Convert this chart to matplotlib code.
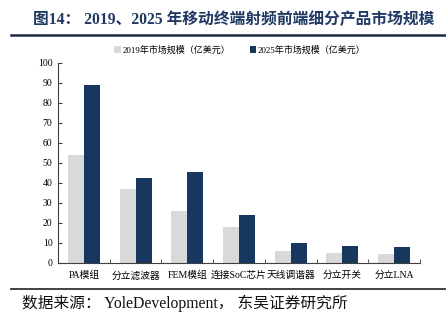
import matplotlib
matplotlib.use("Agg")
import matplotlib.pyplot as plt
import numpy as np

categories = ["PA模组", "分立滤波器", "FEM模组", "连接SoC芯片", "天线调谐器", "分立开关", "分立LNA"]
v2019 = [54, 37, 26, 18, 6, 5, 4.3]
v2025 = [89, 42.5, 45.5, 24, 10, 8.2, 8]
series_names = ["2019年市场规模（亿美元）", "2025年市场规模（亿美元）"]
yticks = [0, 10, 20, 30, 40, 50, 60, 70, 80, 90, 100]

FAM = ["Liberation Serif", "Noto Sans CJK SC", "DejaVu Sans"]
plt.rcParams["font.family"] = FAM

W, H = 446, 327
fig = plt.figure(figsize=(W / 100, H / 100), dpi=100)
ax = fig.add_axes([58 / W, 1 - 262.5 / H, (420 - 58) / W, (262.5 - 63) / H])

x = np.arange(len(categories))
bw = 0.31
ax.bar(x - bw / 2, v2019, bw, color="#d9d9d9", label=series_names[0], zorder=2)
ax.bar(x + bw / 2, v2025, bw, color="#17375e", label=series_names[1], zorder=2)

ax.set_xlim(-0.5, len(categories) - 0.5)
ax.set_ylim(0, 100)
ax.set_yticks(yticks)
ax.set_yticklabels([str(t) for t in yticks], fontsize=7)
ax.set_xticks(x)
ax.set_xticklabels(categories, fontsize=7)
ax.set_xticks(np.arange(len(categories)) + 0.5, minor=True)
ax.tick_params(axis="x", which="major", length=0, pad=6)
ax.tick_params(axis="x", which="minor", length=3, direction="in", color="#404040")
ax.tick_params(axis="y", length=3, direction="in", pad=4, color="#404040")
for s in ["top", "right"]:
    ax.spines[s].set_visible(False)
for s in ["left", "bottom"]:
    ax.spines[s].set_color("#404040")
    ax.spines[s].set_linewidth(0.8)

leg = fig.legend(loc="center", bbox_to_anchor=(240 / W, 1 - 50 / H), ncol=2,
                 frameon=False, fontsize=6.5, handlelength=0.7, handleheight=0.7,
                 handletextpad=0.2, columnspacing=2.2)

fig.text(33 / W, 1 - 20 / H, "图14： 2019、2025 年移动终端射频前端细分产品市场规模",
         fontsize=11.3, fontweight="bold", color="#1f3864", va="center", ha="left")
fig.add_artist(plt.Line2D([11 / W, 1], [1 - 35 / H, 1 - 35 / H], color="#1f2a44", lw=1.8))
fig.add_artist(plt.Line2D([11 / W, 1], [1 - 289 / H, 1 - 289 / H], color="#333333", lw=1.3))
fig.text(22 / W, 1 - 303 / H, "数据来源： YoleDevelopment， 东吴证券研究所",
         fontsize=11.3, color="#111111", va="center", ha="left")

fig.savefig("out.png", dpi=100)
